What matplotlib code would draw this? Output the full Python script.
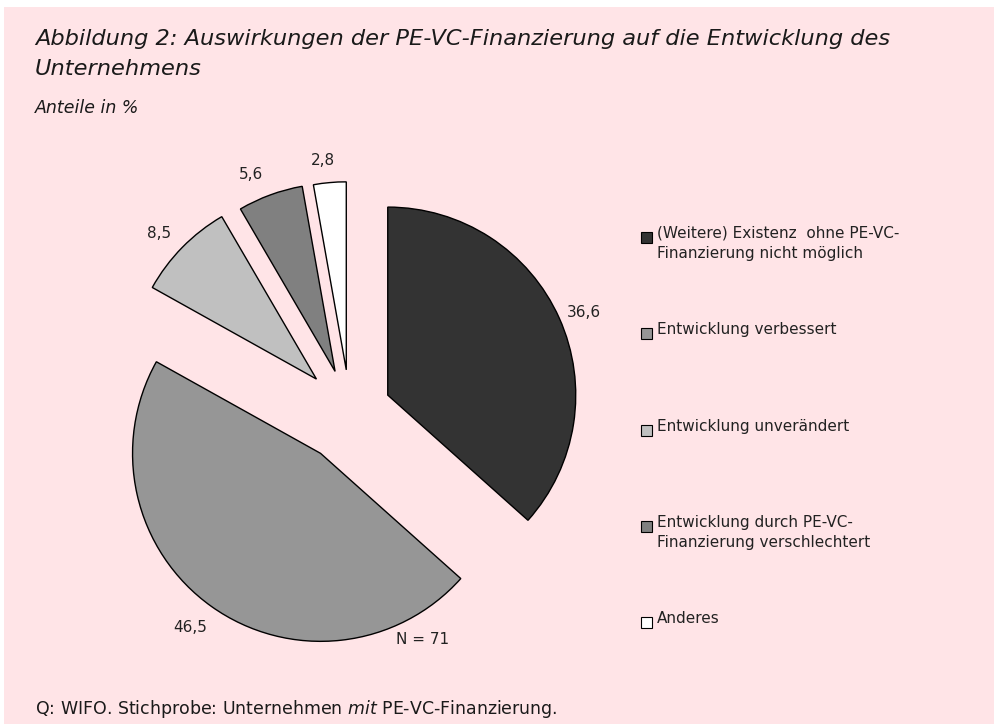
import matplotlib
matplotlib.use("Agg")
import matplotlib.pyplot as plt
from matplotlib.patches import Rectangle
import numpy as np

# Daten
categories = ["(Weitere) Existenz  ohne PE-VC-\nFinanzierung nicht möglich",
              "Entwicklung verbessert",
              "Entwicklung unverändert",
              "Entwicklung durch PE-VC-\nFinanzierung verschlechtert",
              "Anderes"]
shares = [36.6, 46.5, 8.5, 5.6, 2.8]
n_obs = 71
colors = ["#333333", "#969696", "#C0C0C0", "#808080", "#FFFFFF"]
explode = [0.22, 0.27, 0.25, 0.23, 0.225]
label_dist = [1.12, 1.155, 1.17, 1.15, 1.09]
# kleine Verschiebung der Beschriftung (px, nach rechts / nach unten)
label_nudge = [(4, 3), (-4, -3), (0, 8), (-10, 6), (-5, -5)]

title_lines = ["Abbildung 2: Auswirkungen der PE-VC-Finanzierung auf die Entwicklung des",
               "Unternehmens"]
subtitle = "Anteile in %"
source = r"Q: WIFO. Stichprobe: Unternehmen $\mathit{mit}$ PE-VC-Finanzierung."

W, H = 995, 727
bg = "#FFE4E7"
font = "DejaVu Sans"
plt.rcParams['font.family'] = font
plt.rcParams['mathtext.fontset'] = 'custom'
plt.rcParams['mathtext.rm'] = font
plt.rcParams['mathtext.it'] = font + ':italic'

fig = plt.figure(figsize=(W / 100, H / 100), dpi=100)
fig.patch.set_facecolor("white")

def fx(px):
    return px / W

def fy(py):
    return 1 - py / H

# rosa Hintergrund
fig.patches.append(Rectangle((fx(4), fy(724)), fx(995) - fx(4), fy(7) - fy(724),
                             transform=fig.transFigure, facecolor=bg, edgecolor="none", zorder=-1))

# Pie: Mittelpunkt bei (350, 412) px, Radius 188 px
r_px = 188
cx, cy = 350, 412
left, right, top, bottom = 100, 600, 130, 690
ax = fig.add_axes([fx(left), fy(bottom), fx(right - left), fy(top) - fy(bottom)])
ax.patch.set_alpha(0)
wedges, _ = ax.pie(shares, explode=explode, colors=colors,
                   startangle=90, counterclock=False,
                   wedgeprops=dict(edgecolor="black", linewidth=1.0))
# Werte an die Segmente
for w, v, d, nd in zip(wedges, shares, label_dist, label_nudge):
    ang = np.deg2rad((w.theta1 + w.theta2) / 2)
    x = w.center[0] + d * w.r * np.cos(ang)
    y = w.center[1] + d * w.r * np.sin(ang)
    ax.annotate(f"{v:.1f}".replace(".", ","), (x, y), xytext=(nd[0] * 0.72, -nd[1] * 0.72),
                textcoords="offset points", fontsize=11, color="#222222",
                ha="center", va="center")
ax.set_xlim((left - cx) / r_px, (right - cx) / r_px)
ax.set_ylim((cy - bottom) / r_px, (cy - top) / r_px)
ax.set_aspect("auto")
ax.axis("off")

fig.text(fx(423), fy(640), f"N = {n_obs}", fontsize=11, ha="center", va="center", color="#222222")

# Titel
fig.text(fx(35), fy(39), title_lines[0], fontsize=16.2, style="italic", va="center", color="#1a1a1a")
fig.text(fx(35), fy(69), title_lines[1], fontsize=16.2, style="italic", va="center", color="#1a1a1a")
fig.text(fx(35), fy(108), subtitle, fontsize=12.5, style="italic", va="center", color="#1a1a1a")
fig.text(fx(35), fy(709), source, fontsize=12.5, va="center", color="#1a1a1a")

# Legende
leg_y = [237, 333, 430, 526, 622]
for i, lab in enumerate(categories):
    y = leg_y[i]
    fig.patches.append(Rectangle((fx(641), fy(y + 6)), fx(11), fy(0) - fy(11),
                                 transform=fig.transFigure, facecolor=colors[i],
                                 edgecolor="black", linewidth=0.8, zorder=2))
    fig.text(fx(657), fy(y - 11), lab, fontsize=11, va="top", linespacing=1.4, color="#222222")

fig.savefig("out.png", dpi=100, facecolor=fig.get_facecolor())
